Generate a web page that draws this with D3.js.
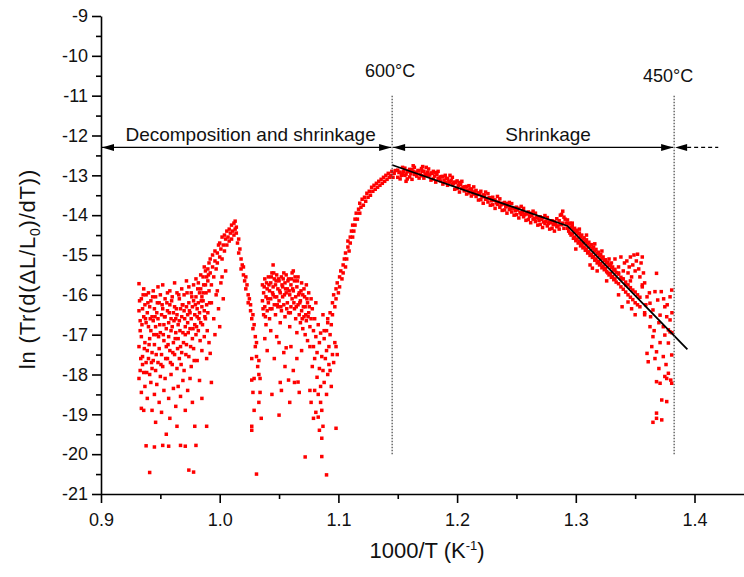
<!DOCTYPE html>
<html><head><meta charset="utf-8">
<script src="https://cdn.jsdelivr.net/npm/d3@7"></script>
<style>
body{margin:0;background:#fff}
svg{display:block}
text{font-family:"Liberation Sans",Arial,Helvetica,sans-serif;fill:#111}
</style></head><body>
<svg id="c" width="744" height="577"></svg>
<script>
// ---------------- DATA ----------------
const xMajorTicks = [0.9, 1.0, 1.1, 1.2, 1.3, 1.4];
const xMinorTicks = [0.95, 1.05, 1.15, 1.25, 1.35];
const yMajorTicks = [-21, -20, -19, -18, -17, -16, -15, -14, -13, -12, -11, -10, -9];
const yMinorTicks = [-20.5, -19.5, -18.5, -17.5, -16.5, -15.5, -14.5, -13.5, -12.5, -11.5, -10.5, -9.5];

const regionLabels = ["Decomposition and shrinkage", "Shrinkage"];
const tempMarksC = [600, 450];
const arrowLevel = -12.3;

// linear fit segments (x = 1000/T, y)
const fitLine = [[1.1453, -12.74], [1.293, -14.27], [1.394, -17.37]];

const decompCluster = [
[0.932,-15.72],[0.932,-16.4],[0.933,-16.9],[0.932,-17.3],[0.933,-17.9],[0.932,-18.1],[0.933,-16.65],
[0.934,-16.1],[0.934,-17.05],[0.935,-17.55],[0.934,-18.45],[0.935,-16.35],[0.935,-17.75],[0.934,-18.85],
[0.936,-15.85],[0.936,-16.55],[0.937,-17.2],[0.936,-17.95],[0.937,-16.25],[0.937,-18.3],[0.936,-18.9],
[0.938,-16.0],[0.938,-16.7],[0.939,-17.4],[0.938,-17.7],[0.939,-16.45],[0.939,-18.6],[0.938,-19.79],
[0.940,-15.95],[0.940,-16.8],[0.941,-17.1],[0.940,-17.6],[0.941,-18.0],[0.941,-16.3],[0.941,-20.46],
[0.942,-16.15],[0.942,-16.9],[0.943,-17.45],[0.942,-18.2],[0.943,-16.55],[0.943,-17.85],[0.943,-18.9],
[0.944,-15.9],[0.944,-16.65],[0.945,-17.25],[0.944,-17.65],[0.945,-16.35],[0.945,-18.5],[0.945,-19.82],
[0.946,-16.05],[0.946,-16.8],[0.947,-17.0],[0.946,-17.9],[0.947,-16.45],[0.947,-18.25],[0.946,-19.2],
[0.948,-15.8],[0.948,-16.6],[0.949,-17.35],[0.948,-17.7],[0.949,-16.2],[0.949,-18.7],
[0.950,-16.0],[0.950,-16.95],[0.951,-17.5],[0.950,-18.05],[0.951,-16.5],[0.952,-19.78],[0.951,-18.95],
[0.952,-15.75],[0.952,-16.35],[0.953,-17.15],[0.952,-17.8],[0.953,-16.75],[0.953,-18.4],
[0.954,-16.1],[0.954,-16.55],[0.955,-17.3],[0.954,-18.1],[0.955,-16.85],[0.955,-19.5],[0.957,-19.8],
[0.956,-15.95],[0.956,-16.4],[0.957,-17.05],[0.956,-17.6],[0.957,-16.7],[0.957,-18.6],
[0.958,-15.9],[0.958,-16.25],[0.959,-16.9],[0.958,-17.4],[0.959,-16.6],[0.959,-18.0],[0.958,-19.1],
[0.960,-16.05],[0.960,-16.8],[0.961,-17.2],[0.960,-17.75],[0.961,-16.45],[0.961,-18.35],
[0.962,-15.7],[0.962,-16.3],[0.963,-16.95],[0.962,-17.5],[0.963,-16.6],[0.963,-18.8],
[0.964,-15.95],[0.964,-16.5],[0.965,-17.1],[0.964,-17.85],[0.965,-16.75],[0.965,-18.3],[0.964,-19.3],
[0.966,-16.1],[0.966,-16.65],[0.967,-17.3],[0.966,-17.6],[0.967,-16.35],[0.967,-18.55],[0.967,-19.78],
[0.968,-15.85],[0.968,-16.55],[0.969,-16.95],[0.968,-17.45],[0.969,-16.25],[0.969,-18.15],[0.971,-19.8],
[0.970,-16.0],[0.970,-16.4],[0.971,-17.0],[0.970,-17.9],[0.971,-16.8],[0.971,-18.9],
[0.972,-15.65],[0.972,-16.3],[0.973,-16.7],[0.972,-17.25],[0.973,-16.5],[0.973,-18.4],
[0.974,-15.8],[0.974,-16.2],[0.975,-16.85],[0.974,-17.55],[0.975,-16.45],[0.975,-18.1],[0.974,-20.4],
[0.976,-15.95],[0.976,-16.6],[0.977,-17.1],[0.976,-17.8],[0.977,-16.3],[0.977,-18.7],[0.978,-20.45],
[0.978,-15.75],[0.978,-16.15],[0.979,-16.75],[0.978,-17.35],[0.979,-16.5],[0.979,-19.3],[0.980,-19.78],
[0.980,-15.6],[0.980,-16.05],[0.981,-16.55],[0.980,-17.0],[0.981,-16.35],[0.981,-17.65],
[0.982,-15.7],[0.982,-16.2],[0.983,-16.45],[0.982,-16.9],[0.983,-15.95],[0.983,-18.15],
[0.984,-15.5],[0.984,-15.85],[0.985,-16.3],[0.984,-16.7],[0.985,-16.05],[0.985,-17.4],[0.985,-18.6],
[0.986,-15.55],[0.986,-15.95],[0.987,-16.4],[0.986,-16.15],[0.987,-17.05],[0.987,-15.3],
[0.988,-15.4],[0.988,-15.75],[0.989,-16.25],[0.988,-16.6],[0.989,-15.55],[0.989,-17.6],
[0.990,-15.35],[0.990,-15.65],[0.991,-15.9],[0.990,-16.45],[0.991,-15.2],[0.991,-17.2]
];

const decompFill = [
[0.9325,-16.15],[0.9335,-17.6],[0.9345,-16.75],[0.9355,-16.0],[0.9365,-17.35],[0.9375,-16.6],[0.9385,-17.95],
[0.9395,-16.2],[0.9405,-17.25],[0.9415,-16.6],[0.9425,-17.7],[0.9435,-16.05],[0.9445,-17.0],[0.9455,-16.55],
[0.9465,-17.5],[0.9475,-16.2],[0.9485,-17.05],[0.9495,-16.75],[0.9505,-17.75],[0.9515,-16.25],[0.9525,-17.0],
[0.9535,-16.55],[0.9545,-17.6],[0.9555,-16.2],[0.9565,-17.25],[0.9575,-16.45],[0.9585,-17.7],[0.9595,-16.15],
[0.9605,-17.45],[0.9615,-16.65],[0.9625,-17.1],[0.9635,-16.35],[0.9645,-17.35],[0.9655,-16.0],[0.9665,-16.9],
[0.9675,-17.75],[0.9685,-16.25],[0.9695,-17.2],[0.9705,-16.6],[0.9715,-17.5],[0.9725,-15.95],[0.9735,-16.95],
[0.9745,-16.4],[0.9755,-17.3],[0.9765,-16.05],[0.9775,-16.85],[0.9785,-17.65],[0.9795,-16.25],[0.9805,-16.8],
[0.9815,-15.85],[0.9825,-16.6],[0.9835,-17.15],[0.9845,-16.15],[0.9855,-16.75],[0.9865,-15.75],[0.9875,-16.55],
[0.9885,-15.95],[0.9895,-16.9],[0.9905,-15.5],[0.9915,-16.2]
];

const peakRise = [
[0.992,-15.1],[0.992,-15.45],[0.993,-15.75],[0.994,-15.3],[0.994,-15.0],[0.995,-15.55],[0.996,-15.15],
[0.996,-14.9],[0.997,-15.35],[0.998,-14.95],[0.998,-15.2],[0.999,-14.75],[1.000,-15.05],[1.000,-14.7],
[1.001,-14.85],[1.002,-14.55],[1.002,-15.1],[1.003,-14.75],[1.004,-14.5],[1.004,-14.9],[1.005,-14.6],
[1.006,-14.4],[1.006,-14.75],[1.007,-14.55],[1.008,-14.35],[1.008,-14.65],[1.009,-14.45],[1.010,-14.25],
[1.010,-14.6],[1.011,-14.4],[1.012,-14.2],[1.012,-14.5],[1.013,-14.15],[1.013,-14.35],[1.014,-14.3]
];

const peakScatter = [
[0.993,-16.2],[0.995,-16.6],[0.997,-16.0],[0.999,-16.35],[1.001,-15.7],[1.003,-16.1],[0.996,-17.0],
[0.992,-17.47],[0.993,-18.2],[0.989,-19.3],[0.998,-15.9],[1.000,-16.8],[1.005,-15.4],[1.002,-15.55]
];

const peakFall = [
[1.014,-14.45],[1.015,-14.7],[1.016,-14.6],[1.016,-14.95],[1.017,-14.85],[1.018,-15.1],[1.018,-15.35],
[1.019,-15.25],[1.020,-15.5],[1.020,-15.3],[1.021,-15.65],[1.022,-15.55],[1.022,-15.85],[1.023,-15.75],
[1.024,-16.0],[1.024,-16.2],[1.025,-16.1],[1.026,-16.4],[1.026,-16.25],[1.027,-16.6],[1.028,-16.5],
[1.028,-16.85],[1.029,-16.75],[1.030,-17.05],[1.030,-17.3],[1.031,-17.2],[1.031,-17.55],[1.032,-17.8],
[1.033,-17.65],[1.033,-18.0],[1.034,-18.1],[1.034,-18.45],[1.033,-18.7],[1.028,-18.45],[1.027,-19.3],
[1.029,-18.9],[1.035,-19.1],[1.031,-20.5],[1.027,-17.6],[1.029,-18.1],[1.027,-18.14],[1.027,-19.4]
];

const midCluster = [
[1.036,-15.75],[1.036,-16.15],[1.037,-16.5],[1.037,-15.95],[1.038,-16.3],[1.038,-15.6],[1.039,-16.05],
[1.039,-16.75],[1.040,-15.85],[1.040,-16.4],[1.041,-15.55],[1.041,-16.2],[1.042,-15.9],[1.042,-16.6],
[1.043,-15.7],[1.043,-16.1],[1.044,-15.45],[1.044,-16.35],[1.045,-15.25],[1.045,-15.8],[1.045,-16.0],
[1.046,-15.6],[1.046,-16.25],[1.047,-15.75],[1.047,-16.5],[1.048,-15.5],[1.048,-16.05],[1.049,-15.85],
[1.049,-16.3],[1.050,-15.65],[1.050,-16.15],[1.051,-15.95],[1.051,-16.7],[1.052,-15.55],[1.052,-16.4],
[1.053,-15.8],[1.053,-16.05],[1.054,-15.45],[1.054,-16.25],[1.055,-15.7],[1.055,-16.55],[1.056,-15.95],
[1.056,-15.5],[1.057,-16.2],[1.057,-15.85],[1.058,-16.45],[1.058,-15.6],[1.059,-16.0],[1.059,-16.8],
[1.060,-15.75],[1.060,-16.3],[1.061,-15.45],[1.061,-16.1],[1.062,-15.4],[1.062,-15.9],[1.063,-16.35],
[1.063,-15.65],[1.064,-16.6],[1.064,-16.05],[1.065,-15.8],[1.065,-16.95],[1.066,-15.55],[1.066,-16.25],
[1.067,-16.5],[1.067,-15.95],[1.068,-16.7],[1.068,-16.15],[1.069,-15.7],[1.069,-16.4],[1.070,-16.85],
[1.070,-16.0],[1.071,-16.55],[1.071,-15.85],[1.072,-16.3],[1.072,-17.0],[1.073,-15.75],[1.073,-16.65],
[1.074,-16.2],[1.074,-17.15],[1.075,-16.45],[1.075,-15.95],[1.076,-16.8],[1.076,-17.3],[1.077,-16.1],
[1.077,-16.6]
];

const midFill = [
[1.0365,-16.35],[1.0375,-15.8],[1.0385,-16.55],[1.0395,-15.7],[1.0405,-16.1],[1.0415,-15.75],[1.0425,-16.35],
[1.0435,-15.55],[1.0445,-15.95],[1.0455,-15.45],[1.0465,-16.05],[1.0475,-15.65],[1.0485,-16.25],[1.0495,-15.6],
[1.0505,-15.9],[1.0515,-16.3],[1.0525,-15.75],[1.0535,-15.6],[1.0545,-16.0],[1.0555,-15.85],[1.0565,-16.35],
[1.0575,-15.65],[1.0585,-15.9],[1.0595,-16.45],[1.0605,-15.6],[1.0615,-15.85],[1.0625,-16.2],[1.0635,-15.55],
[1.0645,-16.3],[1.0655,-15.65],[1.0665,-16.0],[1.0675,-16.2],[1.0685,-15.9],[1.0695,-16.6],[1.0705,-16.3],
[1.0715,-16.05],[1.0725,-16.5],[1.0735,-16.1],[1.0745,-16.55],[1.0755,-16.3]
];

const midScatter = [
[1.038,-17.1],[1.040,-17.4],[1.043,-16.9],[1.046,-17.6],[1.048,-17.05],[1.050,-17.2],[1.051,-18.2],
[1.052,-18.4],[1.050,-19.02],[1.054,-17.45],[1.056,-17.33],[1.055,-17.8],[1.058,-18.14],[1.059,-18.7],
[1.060,-17.3],[1.062,-17.9],[1.066,-18.19],[1.065,-17.6],[1.067,-18.45],[1.069,-17.4],[1.072,-20.07],
[1.044,-18.5],[1.063,-18.2],[1.076,-18.4]
];

const vRegion = [
[1.078,-16.35],[1.079,-16.9],[1.079,-17.3],[1.080,-16.6],[1.080,-17.6],[1.081,-16.2],[1.081,-17.05],
[1.082,-18.07],[1.082,-17.45],[1.083,-16.75],[1.083,-19.07],[1.083,-18.5],[1.084,-17.2],[1.084,-17.85],
[1.085,-16.96],[1.085,-18.7],[1.085,-18.3],[1.086,-19.6],[1.086,-17.55],[1.086,-18.9],[1.087,-16.5],
[1.087,-17.9],[1.087,-19.3],[1.088,-18.2],[1.088,-16.9],[1.090,-20.52],[1.089,-17.6],[1.090,-17.4],
[1.090,-18.5],[1.091,-16.7],[1.091,-18.0],[1.092,-17.75],[1.093,-17.0],[1.094,-18.3],[1.095,-17.5],
[1.098,-19.35],[1.098,-17.3],[1.078,-17.8],[1.080,-18.4],[1.081,-18.95],[1.084,-19.4],[1.086,-20.06],
[1.077,-18.7],[1.079,-19.1],[1.093,-17.9],[1.096,-17.7],[1.099,-17.5],[1.097,-17.2]
];

const riseCurve = [
[1.088,-17.1],[1.090,-16.9],[1.091,-16.6],[1.092,-17.3],[1.093,-16.45],[1.094,-16.75],[1.095,-16.2],
[1.095,-16.5],[1.096,-16.0],[1.097,-16.3],[1.098,-15.85],[1.098,-16.1],[1.099,-15.7],[1.100,-15.95],
[1.101,-15.55],[1.101,-15.8],[1.102,-15.4],[1.103,-15.6],[1.104,-15.25],[1.104,-15.45],[1.105,-15.1],
[1.106,-15.3],[1.106,-14.95],[1.107,-15.1],[1.108,-14.8],[1.108,-14.65],[1.109,-14.9],[1.110,-14.55],
[1.110,-14.7],[1.111,-14.4],[1.112,-14.55],[1.112,-14.25],[1.113,-14.4],[1.114,-14.1],[1.114,-14.25],
[1.115,-13.95],[1.116,-14.1],[1.117,-13.85],[1.118,-13.95],[1.118,-13.7],[1.119,-13.8],[1.120,-13.6],
[1.121,-13.75],[1.122,-13.55],[1.123,-13.65],[1.124,-13.45],[1.125,-13.55],[1.126,-13.4],[1.127,-13.5],
[1.128,-13.3],[1.129,-13.4],[1.130,-13.25],[1.131,-13.35],[1.132,-13.2],[1.133,-13.3],[1.134,-13.15],
[1.135,-13.25],[1.136,-13.1],[1.137,-13.2],[1.138,-13.05],[1.139,-13.15],[1.140,-13.0],[1.141,-13.1],
[1.142,-12.95],[1.143,-13.05],[1.144,-13.0],[1.145,-12.9],[1.146,-13.05],[1.147,-12.95],[1.148,-12.88]
];

const shrinkBand = [
[1.150,-12.87],[1.150,-13.05],[1.152,-13.09],[1.152,-12.92],[1.154,-12.80],[1.154,-12.97],
[1.156,-13.00],[1.156,-12.82],[1.158,-12.91],[1.158,-13.09],[1.160,-12.85],[1.160,-13.04],
[1.162,-13.10],[1.162,-12.86],[1.164,-12.80],[1.164,-12.98],[1.166,-13.02],[1.166,-12.92],
[1.168,-12.88],[1.168,-13.07],[1.170,-12.83],[1.170,-13.01],[1.172,-13.07],[1.172,-12.90],
[1.174,-12.80],[1.174,-12.99],[1.176,-13.02],[1.176,-12.84],[1.178,-12.94],[1.178,-13.12],
[1.180,-12.90],[1.180,-13.09],[1.182,-13.17],[1.182,-12.93],[1.184,-12.90],[1.184,-13.08],
[1.186,-13.14],[1.186,-13.04],[1.188,-13.03],[1.188,-13.22],[1.190,-13.00],[1.190,-13.18],
[1.192,-13.25],[1.192,-13.08],[1.194,-13.00],[1.194,-13.17],[1.196,-13.23],[1.196,-13.05],
[1.198,-13.17],[1.198,-13.35],[1.200,-13.14],[1.200,-13.33],[1.202,-13.42],[1.202,-13.18],
[1.204,-13.15],[1.204,-13.33],[1.206,-13.39],[1.206,-13.29],[1.208,-13.28],[1.208,-13.47],
[1.210,-13.26],[1.210,-13.44],[1.212,-13.52],[1.212,-13.35],[1.214,-13.29],[1.214,-13.47],
[1.216,-13.53],[1.216,-13.38],[1.218,-13.44],[1.218,-13.62],[1.220,-13.40],[1.220,-13.61],
[1.222,-13.70],[1.222,-13.49],[1.224,-13.42],[1.224,-13.60],[1.226,-13.67],[1.226,-13.46],
[1.228,-13.57],[1.228,-13.75],[1.230,-13.55],[1.230,-13.74],[1.232,-13.83],[1.232,-13.62],
[1.234,-13.53],[1.234,-13.73],[1.236,-13.80],[1.236,-13.59],[1.238,-13.70],[1.238,-13.88],
[1.240,-13.68],[1.240,-13.87],[1.242,-13.95],[1.242,-13.71],[1.244,-13.68],[1.244,-13.86],
[1.246,-13.92],[1.246,-13.71],[1.248,-13.83],[1.248,-14.00],[1.250,-13.80],[1.250,-13.99],
[1.252,-14.07],[1.252,-13.83],[1.254,-13.78],[1.254,-13.98],[1.256,-14.04],[1.256,-13.83],
[1.258,-13.95],[1.258,-14.13],[1.260,-13.92],[1.260,-14.11],[1.262,-14.19],[1.262,-13.95],
[1.264,-13.90],[1.264,-14.10],[1.266,-14.16],[1.266,-13.95],[1.268,-14.07],[1.268,-14.25],
[1.270,-14.04],[1.270,-14.23],[1.272,-14.31],[1.272,-14.07],[1.274,-14.01],[1.274,-14.21],
[1.276,-14.27],[1.276,-14.06],[1.278,-14.17],[1.278,-14.35],[1.280,-14.14],[1.280,-14.33],
[1.282,-14.40],[1.282,-14.16],[1.284,-14.09],[1.284,-14.29],[1.286,-14.35],[1.286,-14.14],
[1.288,-14.24],[1.288,-13.98],[1.290,-14.05],[1.290,-14.33],
[1.289,-13.90],[1.291,-14.10],[1.287,-14.00],[1.292,-14.20],[1.163,-12.76],[1.171,-12.78],[1.157,-13.15]
];

const shrinkFill = [
[1.151,-12.93],[1.153,-13.0],[1.155,-12.9],[1.157,-12.97],[1.159,-12.89],[1.161,-12.96],[1.163,-12.9],
[1.165,-12.95],[1.167,-12.88],[1.169,-12.97],[1.171,-12.9],[1.173,-12.97],[1.175,-12.92],[1.177,-12.99],
[1.179,-12.95],[1.181,-13.02],[1.183,-12.98],[1.185,-13.07],[1.187,-13.03],[1.189,-13.12],[1.191,-13.08],
[1.193,-13.16],[1.195,-13.13],[1.197,-13.21],[1.199,-13.18],[1.201,-13.26],[1.203,-13.23],[1.205,-13.31],
[1.207,-13.29],[1.209,-13.37],[1.211,-13.34],[1.213,-13.43],[1.215,-13.40],[1.217,-13.48],[1.219,-13.46],
[1.221,-13.54],[1.223,-13.51],[1.225,-13.59],[1.227,-13.56],[1.229,-13.64],[1.231,-13.62],[1.233,-13.69],
[1.235,-13.67],[1.237,-13.74],[1.239,-13.72],[1.241,-13.79],[1.243,-13.77],[1.245,-13.84],[1.247,-13.82],
[1.249,-13.89],[1.251,-13.87],[1.253,-13.94],[1.255,-13.92],[1.257,-13.99],[1.259,-13.97],[1.261,-14.03],
[1.263,-14.01],[1.265,-14.08],[1.267,-14.06],[1.269,-14.13],[1.271,-14.11],[1.273,-14.17],[1.275,-14.15],
[1.277,-14.21],[1.279,-14.19],[1.281,-14.24],[1.283,-14.22],[1.285,-14.27],[1.287,-14.23],[1.289,-14.2]
];

const descBand = [
[1.293,-14.12],[1.293,-14.33],[1.294,-14.22],[1.294,-14.40],[1.295,-14.20],[1.295,-14.45],
[1.296,-14.30],[1.296,-14.50],[1.297,-14.27],[1.297,-14.47],[1.298,-14.36],[1.298,-14.58],
[1.299,-14.33],[1.299,-14.55],[1.300,-14.42],[1.300,-14.64],[1.301,-14.38],[1.301,-14.60],
[1.302,-14.47],[1.302,-14.70],[1.303,-14.45],[1.303,-14.66],[1.304,-14.54],[1.304,-14.77],
[1.305,-14.50],[1.305,-14.73],[1.306,-14.60],[1.306,-14.82],[1.307,-14.57],[1.307,-14.80],
[1.308,-14.66],[1.308,-14.88],[1.309,-14.62],[1.309,-14.85],[1.310,-14.72],[1.310,-14.95],
[1.311,-14.68],[1.311,-14.92],[1.312,-14.78],[1.312,-15.01],[1.313,-14.74],[1.313,-14.98],
[1.314,-14.84],[1.314,-15.06],[1.315,-14.80],[1.315,-15.04],[1.316,-14.90],[1.316,-15.13],
[1.317,-14.86],[1.317,-15.10],[1.318,-14.96],[1.318,-15.20],[1.319,-14.93],[1.319,-15.16],
[1.320,-15.02],[1.320,-15.25],[1.321,-14.99],[1.321,-15.22],[1.322,-15.08],[1.322,-15.32],
[1.323,-15.05],[1.323,-15.28],[1.324,-15.14],[1.324,-15.37],[1.325,-15.12],[1.325,-15.34],
[1.326,-15.20],[1.326,-15.42],[1.327,-15.18],[1.327,-15.45],[1.328,-15.26],[1.328,-15.50],
[1.329,-15.25],[1.329,-15.47],[1.330,-15.32],[1.330,-15.56],[1.331,-15.30],[1.331,-15.54],
[1.332,-15.38],[1.332,-15.62],[1.333,-15.36],[1.333,-15.60],[1.334,-15.44],[1.334,-15.68],
[1.336,-15.48],[1.336,-15.72],[1.338,-15.56],[1.338,-15.80],[1.340,-15.60],[1.340,-15.86],
[1.342,-15.68],[1.342,-15.93],[1.344,-15.75],[1.344,-16.00],[1.346,-15.82],[1.346,-16.06],
[1.348,-15.88],[1.348,-16.12],[1.350,-15.93],[1.350,-16.20],[1.352,-16.00],[1.352,-16.25],
[1.354,-16.06],[1.354,-16.30],
[1.300,-14.85],[1.306,-14.70],[1.312,-15.25],[1.314,-15.33],[1.318,-15.40],[1.326,-15.65],
[1.336,-16.0],[1.344,-16.18],[1.350,-16.5],[1.358,-16.5],[1.339,-16.3],[1.347,-16.35],
[1.297,-14.2],[1.303,-14.35],[1.309,-14.5],[1.316,-14.72],[1.322,-14.9],[1.328,-15.1]
];

const humpPoints = [
[1.330,-15.2],[1.333,-15.1],[1.336,-15.3],[1.338,-15.05],[1.340,-15.4],[1.341,-15.2],[1.343,-15.15],
[1.344,-15.45],[1.345,-15.3],[1.346,-15.05],[1.347,-15.55],[1.348,-15.25],[1.349,-15.0],[1.350,-15.4],
[1.351,-15.15],[1.352,-14.98],[1.353,-15.35],[1.354,-15.55],[1.355,-15.2],[1.356,-15.05],[1.357,-15.45],
[1.358,-15.7],[1.356,-15.8],[1.339,-15.6],[1.342,-15.75],[1.346,-15.65],[1.336,-15.45]
];

const tailScatter = [
[1.356,-15.75],[1.358,-16.45],[1.360,-16.05],[1.360,-17.47],[1.361,-17.68],[1.3625,-16.21],[1.3625,-16.8],
[1.365,-16.38],[1.365,-17.05],[1.365,-19.2],[1.3667,-15.92],[1.3667,-17.6],[1.368,-15.46],[1.368,-17.43],
[1.368,-18.18],[1.368,-18.97],[1.368,-19.1],[1.369,-16.13],[1.371,-16.51],[1.371,-17.2],[1.371,-18.22],
[1.372,-15.92],[1.3724,-18.64],[1.3724,-19.14],[1.3737,-16.8],[1.3737,-17.55],[1.375,-16.30],[1.375,-17.01],
[1.3766,-16.55],[1.3766,-18.1],[1.3766,-18.68],[1.378,-16.88],[1.378,-17.21],[1.378,-17.97],[1.3794,-16.05],
[1.3794,-16.63],[1.3808,-15.88],[1.3808,-17.51],[1.3808,-18.22],[1.380,-18.14],[1.363,-16.55],[1.366,-16.9],
[1.370,-16.7],[1.374,-16.1],[1.377,-16.25],[1.381,-16.45],[1.362,-15.95],[1.359,-16.25],[1.364,-17.3],
[1.376,-17.75],[1.381,-16.95],[1.370,-17.85],[1.3794,-16.93],[1.375,-18.05]
];

// ---------------- DRAW ----------------
const svg = d3.select("#c");
const x = d3.scaleLinear().domain([0.9, 1.4417]).range([101, 744]);
const y = d3.scaleLinear().domain([-21, -9]).range([494, 16]);
const invT = c => 1000 / (c + 273.15);
const DOT = 3.5;

// scatter
const allPts = [].concat(decompCluster, decompFill, peakRise, peakScatter, peakFall, midCluster, midFill,
  midScatter, vRegion, riseCurve, shrinkBand, shrinkFill, descBand, humpPoints, tailScatter);
svg.append("g").selectAll("rect").data(allPts).join("rect")
  .attr("x", d => x(d[0]) - DOT / 2).attr("y", d => y(d[1]) - DOT / 2)
  .attr("width", DOT).attr("height", DOT).attr("fill", "#ff0000");

// fit line
svg.append("path").datum(fitLine)
  .attr("d", d3.line().x(d => x(d[0])).y(d => y(d[1])))
  .attr("fill", "none").attr("stroke", "#000").attr("stroke-width", 1.8);

// vertical dotted temperature lines
const tx = tempMarksC.map(invT);
svg.append("g").selectAll("line").data(tx).join("line")
  .attr("x1", d => x(d)).attr("x2", d => x(d))
  .attr("y1", y(-11)).attr("y2", y(-20))
  .attr("stroke", "#444").attr("stroke-width", 1.2).attr("stroke-dasharray", "1.5,1.5");

svg.append("g").selectAll("text").data(tempMarksC).join("text")
  .attr("x", (d, i) => x(tx[i]) + (i === 0 ? -2 : -6))
  .attr("y", (d, i) => i === 0 ? 77 : 82)
  .attr("text-anchor", "middle").attr("font-size", 18)
  .text(d => d + "°C");

// arrows
const ay = y(arrowLevel);
const head = (tip, dir) => `M${tip},${ay}L${tip - dir * 12},${ay - 3.5}L${tip - dir * 12},${ay + 3.5}Z`;
const ag = svg.append("g");
const segs = [[0.9, tx[0]], [tx[0], tx[1]]];
segs.forEach(s => {
  const a = x(s[0]) + 1, b = x(s[1]) - 1;
  ag.append("line").attr("x1", a).attr("x2", b).attr("y1", ay).attr("y2", ay)
    .attr("stroke", "#000").attr("stroke-width", 1.2);
  ag.append("path").attr("d", head(a, -1)).attr("fill", "#000");
  ag.append("path").attr("d", head(b, 1)).attr("fill", "#000");
});
const c0 = x(tx[1]) + 1;
ag.append("path").attr("d", head(c0, -1)).attr("fill", "#000");
ag.append("line").attr("x1", c0 + 12).attr("x2", x(1.42)).attr("y1", ay).attr("y2", ay)
  .attr("stroke", "#000").attr("stroke-width", 1.2).attr("stroke-dasharray", "4,3");

svg.append("text").attr("x", (x(0.9) + x(tx[0])) / 2 + 4).attr("y", 140.5)
  .attr("text-anchor", "middle").attr("font-size", 19).text(regionLabels[0]);
svg.append("text").attr("x", (x(tx[0]) + x(tx[1])) / 2 + 15).attr("y", 140.5)
  .attr("text-anchor", "middle").attr("font-size", 19).text(regionLabels[1]);

// axes
const fmtY = d => String(d);
svg.append("g").attr("transform", `translate(0,${y(-21)})`)
  .call(d3.axisBottom(x).tickValues(xMajorTicks).tickFormat(d3.format(".1f"))
    .tickSize(9).tickSizeOuter(0).tickPadding(10));
svg.append("g").attr("transform", `translate(0,${y(-21)})`)
  .call(d3.axisBottom(x).tickValues(xMinorTicks).tickFormat("").tickSize(5).tickSizeOuter(0))
  .call(g => g.select(".domain").remove());
svg.append("g").attr("transform", `translate(${x(0.9)},0)`)
  .call(d3.axisLeft(y).tickValues(yMajorTicks).tickFormat(fmtY)
    .tickSize(9).tickSizeOuter(0).tickPadding(4));
svg.append("g").attr("transform", `translate(${x(0.9)},0)`)
  .call(d3.axisLeft(y).tickValues(yMinorTicks).tickFormat("").tickSize(5).tickSizeOuter(0))
  .call(g => g.select(".domain").remove());

svg.selectAll(".domain, .tick line").attr("stroke", "#000").attr("stroke-width", 1.6);
svg.selectAll(".tick text").attr("font-size", 18).attr("fill", "#111")
  .attr("font-family", '"Liberation Sans",Arial,sans-serif');

// axis titles
const xt = svg.append("text").attr("x", 427).attr("y", 558).attr("text-anchor", "middle").attr("font-size", 22);
xt.append("tspan").text("1000/T (K");
xt.append("tspan").attr("dy", -8).attr("font-size", 13).text("-1");
xt.append("tspan").attr("dy", 8).text(")");

const yt = svg.append("text").attr("transform", "translate(35,269) rotate(-90)")
  .attr("text-anchor", "middle").attr("font-size", 22).attr("letter-spacing", 0.8);
yt.append("tspan").text("ln (Tr(d(ΔL/L");
yt.append("tspan").attr("dy", 5).attr("font-size", 14).text("0");
yt.append("tspan").attr("dy", -5).text(")/dT))");
</script>
</body></html>
